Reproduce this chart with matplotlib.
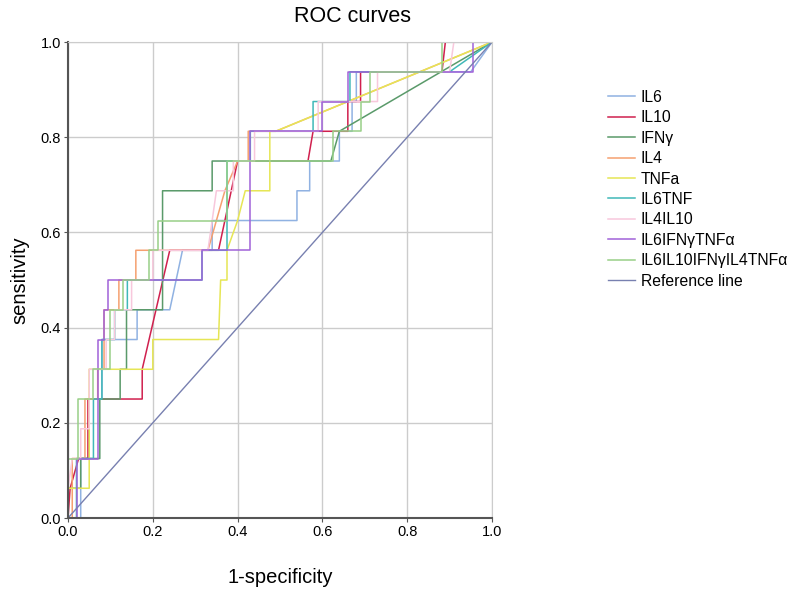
import matplotlib
matplotlib.use("Agg")
import matplotlib.pyplot as plt

plt.rcParams['font.family'] = ['Liberation Sans', 'DejaVu Sans']

# ROC curves: (1-specificity, sensitivity) vertices
names = ['IL6', 'IL10', 'IFNγ', 'IL4', 'TNFa', 'IL6TNF', 'IL4IL10',
         'IL6IFNγTNFα', 'IL6IL10IFNγIL4TNFα']

il6_x = [0, 0.03, 0.03, 0.05, 0.05, 0.08, 0.08, 0.12, 0.12, 0.163, 0.163, 0.24, 0.27,
         0.34, 0.34, 0.54, 0.54, 0.57, 0.57, 0.64, 0.64, 0.67, 0.67, 0.68, 0.68, 0.95, 1]
il6_y = [0, 0, 0.125, 0.125, 0.25, 0.25, 0.375, 0.375, 0.375, 0.375, 0.4375, 0.4375, 0.5625,
         0.5625, 0.625, 0.625, 0.6875, 0.6875, 0.75, 0.75, 0.8125, 0.8125, 0.875, 0.875,
         0.9375, 0.9375, 1]

il10_x = [0, 0.005, 0.025, 0.047, 0.047, 0.175, 0.175, 0.24, 0.355, 0.40, 0.566, 0.578,
          0.66, 0.66, 0.69, 0.69, 0.882, 0.89, 1]
il10_y = [0, 0.0625, 0.125, 0.125, 0.25, 0.25, 0.3125, 0.5625, 0.5625, 0.75, 0.75, 0.8125,
          0.8125, 0.875, 0.875, 0.9375, 0.9375, 1, 1]

ifng_x = [0, 0, 0.03, 0.03, 0.075, 0.075, 0.123, 0.123, 0.138, 0.138, 0.223, 0.223,
          0.34, 0.34, 0.62, 0.64, 1]
ifng_y = [0, 0.0625, 0.0625, 0.125, 0.125, 0.25, 0.25, 0.3125, 0.3125, 0.4375, 0.4375, 0.6875,
          0.6875, 0.75, 0.75, 0.8125, 1]

il4_x = [0, 0.01, 0.01, 0.04, 0.04, 0.07, 0.07, 0.085, 0.085, 0.12, 0.12, 0.16, 0.16,
         0.33, 0.37, 0.40, 0.425, 0.425, 0.49, 1]
il4_y = [0, 0, 0.125, 0.125, 0.25, 0.25, 0.3125, 0.3125, 0.4375, 0.4375, 0.5, 0.5, 0.5625,
         0.5625, 0.6875, 0.75, 0.75, 0.8125, 0.8125, 1]

tnf_x = [0, 0, 0.05, 0.05, 0.2, 0.2, 0.355, 0.36, 0.375, 0.375, 0.40, 0.418, 0.476, 0.476,
         0.49, 1]
tnf_y = [0, 0.0625, 0.0625, 0.3125, 0.3125, 0.375, 0.375, 0.5, 0.5, 0.5625, 0.625, 0.6875,
         0.6875, 0.8125, 0.8125, 1]

il6tnf_x = [0, 0.02, 0.02, 0.06, 0.06, 0.08, 0.08, 0.11, 0.11, 0.14, 0.14, 0.316, 0.316,
            0.375, 0.375, 0.43, 0.43, 0.578, 0.578, 0.665, 0.665, 0.90, 1]
il6tnf_y = [0, 0, 0.125, 0.125, 0.25, 0.25, 0.375, 0.375, 0.4375, 0.4375, 0.5, 0.5, 0.5625,
            0.5625, 0.75, 0.75, 0.8125, 0.8125, 0.875, 0.875, 0.9375, 0.9375, 1]

il4il10_x = [0, 0, 0.01, 0.03, 0.03, 0.05, 0.05, 0.09, 0.09, 0.11, 0.11, 0.15, 0.15, 0.2,
             0.2, 0.33, 0.34, 0.35, 0.39, 0.39, 0.44, 0.44, 0.59, 0.59, 0.73, 0.73, 0.9,
             0.91, 1]
il4il10_y = [0, 0.0625, 0.125, 0.125, 0.1875, 0.1875, 0.3125, 0.3125, 0.375, 0.375, 0.4375,
             0.4375, 0.5, 0.5, 0.5625, 0.5625, 0.625, 0.6875, 0.6875, 0.75, 0.75, 0.8125,
             0.8125, 0.875, 0.875, 0.9375, 0.9375, 1, 1]

ifnt_x = [0, 0.022, 0.022, 0.07, 0.07, 0.085, 0.085, 0.094, 0.094, 0.316, 0.316, 0.43,
          0.43, 0.6, 0.6, 0.66, 0.66, 0.884, 0.955, 0.955, 1]
ifnt_y = [0, 0, 0.125, 0.125, 0.375, 0.375, 0.4375, 0.4375, 0.5, 0.5, 0.5625, 0.5625,
          0.8125, 0.8125, 0.875, 0.875, 0.9375, 0.9375, 0.9375, 1, 1]

all5_x = [0, 0, 0.024, 0.024, 0.06, 0.06, 0.1, 0.1, 0.13, 0.13, 0.19, 0.19, 0.212, 0.212,
          0.375, 0.375, 0.625, 0.625, 0.69, 0.69, 0.712, 0.712, 0.882, 0.882, 1]
all5_y = [0, 0.125, 0.125, 0.25, 0.25, 0.3125, 0.3125, 0.4375, 0.4375, 0.5, 0.5, 0.5625,
          0.5625, 0.625, 0.625, 0.75, 0.75, 0.8125, 0.8125, 0.875, 0.875, 0.9375, 0.9375, 1, 1]

ref_x = [0, 1]
ref_y = [0, 1]

curves_x = [il6_x, il10_x, ifng_x, il4_x, tnf_x, il6tnf_x, il4il10_x, ifnt_x, all5_x]
curves_y = [il6_y, il10_y, ifng_y, il4_y, tnf_y, il6tnf_y, il4il10_y, ifnt_y, all5_y]
colors = ['#90b2e2', '#d0204e', '#5a9a6a', '#f5a070', '#e6e655', '#40b8b8', '#f8c8dc',
          '#a062d8', '#98d088']

fig = plt.figure(figsize=(8, 5.97), dpi=100)
ax = fig.add_axes([0.085, 0.1323, 0.53, 0.7973])

for i in range(len(names)):
    ax.plot(curves_x[i], curves_y[i], color=colors[i], lw=1.1, label=names[i])
ax.plot(ref_x, ref_y, color='#7880b0', lw=1.0, label='Reference line')

ax.set_xlim(0, 1)
ax.set_ylim(0, 1)
ax.set_xticks([0, 0.2, 0.4, 0.6, 0.8, 1.0])
ax.set_yticks([0, 0.2, 0.4, 0.6, 0.8, 1.0])
ax.set_xticklabels(['0.0', '0.2', '0.4', '0.6', '0.8', '1.0'])
ax.set_yticklabels(['0.0', '0.2', '0.4', '0.6', '0.8', '1.0'])
ax.tick_params(labelsize=10.5, length=3, width=0.8, color='#555555', pad=2)
ax.grid(color='#cccccc', lw=1.0)
ax.set_axisbelow(True)
for s in ['top', 'right']:
    ax.spines[s].set_color('#cccccc')
for s in ['left', 'bottom']:
    ax.spines[s].set_color('#555555')
    ax.spines[s].set_linewidth(1.5)

ax.set_xlabel('1-specificity', fontsize=14.5, labelpad=21)
ax.set_ylabel('sensitivity', fontsize=14.5, labelpad=8)
fig.text(352 / 800, 1 - 17 / 597, 'ROC curves', fontsize=15.5, ha='center', va='center')

fig.legend(loc='upper left', bbox_to_anchor=(0.752, 0.86), frameon=False,
           fontsize=11.3, handlelength=1.75, handletextpad=0.35, labelspacing=0.345,
           borderaxespad=0)

plt.savefig('out.png', dpi=100)
